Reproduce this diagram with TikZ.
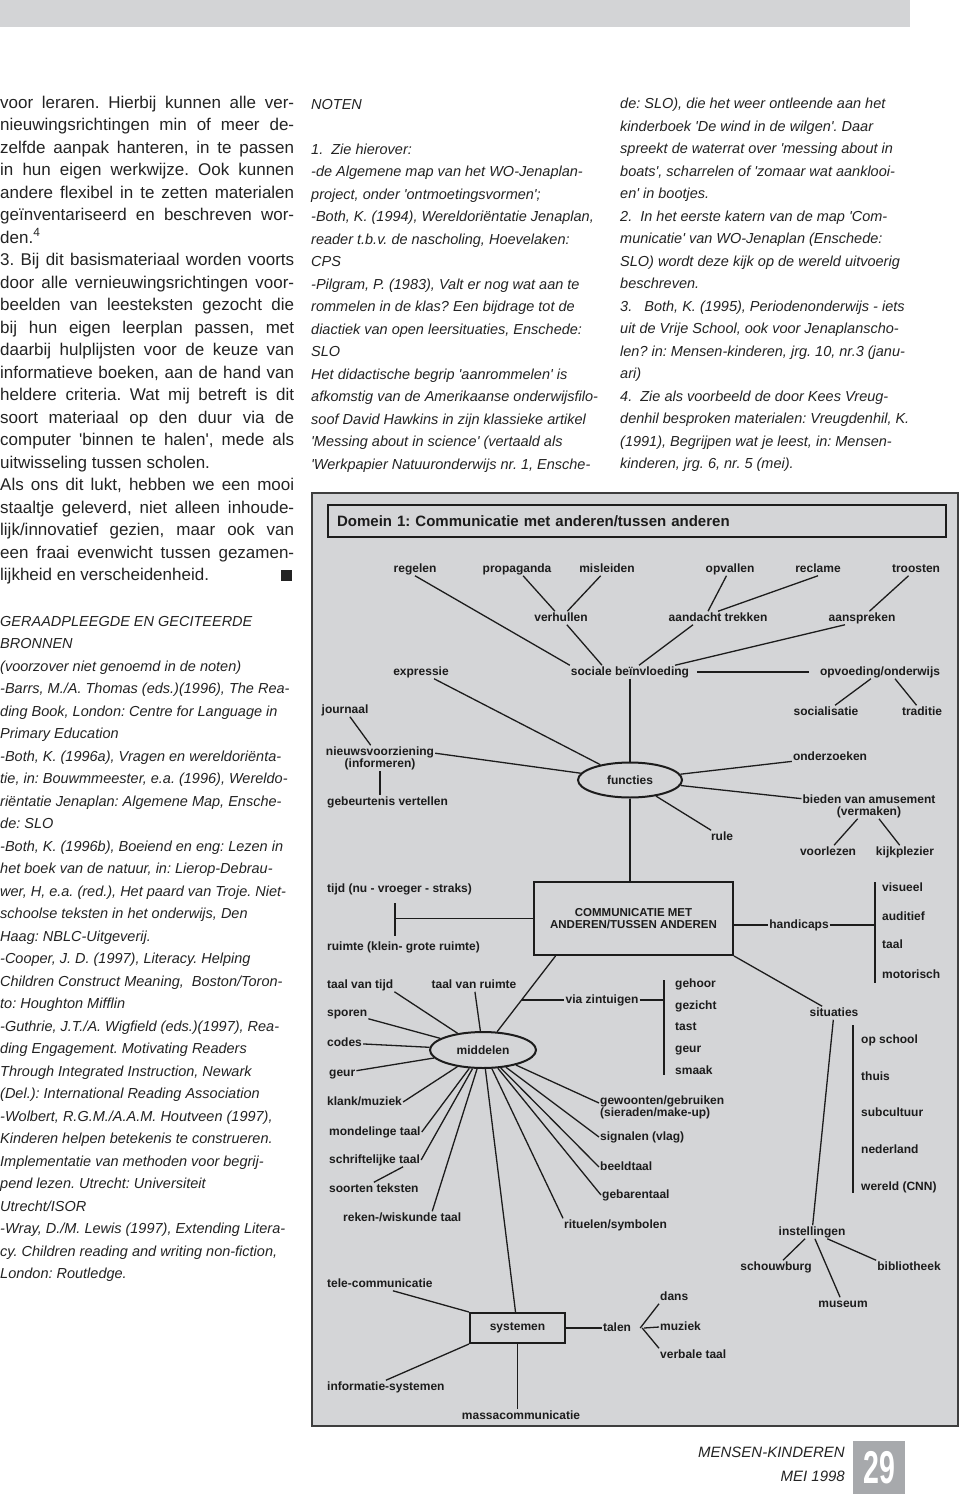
\documentclass[tikz,border=0pt]{standalone}
\usepackage{fontspec}
\setmainfont{Liberation Sans}[Ligatures=TeXOff]
\usetikzlibrary{shapes.geometric}
\setlength\parindent{0pt}
\frenchspacing
\definecolor{pagegray}{HTML}{D3D4D6}
\definecolor{diagbg}{HTML}{D4D5D7}
\definecolor{ink}{HTML}{1C1C1C}
\definecolor{txt}{HTML}{232323}
\definecolor{pagenum}{HTML}{A7A9AC}
\newcommand\jl[1]{\hbox to 294pt{#1}}
\newcommand\lft[1]{\hbox{#1}}
\newcommand\colbox[1]{\vbox{\baselineskip=22.5pt\lineskiplimit=-20pt #1}}
\begin{document}
\begin{tikzpicture}[x=1pt,y=-1pt,
  lbl/.style={font=\bfseries\fontsize{12}{12}\selectfont, text=ink, inner sep=1pt, text height=8.6pt, text depth=2.5pt},
  lblL/.style={lbl, anchor=west},
  lbltwo/.style={font=\bfseries\fontsize{12}{12}\selectfont, text=ink, inner sep=1pt},
  conn/.style={draw=ink, line width=1.3pt},
  ell/.style={ellipse, draw=ink, line width=2pt, inner sep=0pt, font=\bfseries\fontsize{12}{12}\selectfont, text=ink},
  boxn/.style={rectangle, draw=ink, line width=2pt, inner sep=0pt, text=ink},
  bodytext/.style={anchor=north west, inner sep=0pt, text=txt, font=\fontsize{17}{22.5}\selectfont},
  notetext/.style={anchor=north west, inner sep=0pt, text=txt, font=\itshape\fontsize{14.5}{22.5}\selectfont}
]
\useasboundingbox (0,0) rectangle (960,1506);
\fill[white] (0,0) rectangle (960,1506);
% top bar
\fill[pagegray] (0,0) rectangle (910,27);

% ---------- body column ----------
\node[bodytext] (body) at (0,92.2) {\colbox{%
\jl{\strut voor leraren. Hierbij kunnen alle ver-}
\jl{nieuwingsrichtingen min of meer de-}
\jl{zelfde aanpak hanteren, in te passen}
\jl{in hun eigen werkwijze. Ook kunnen}
\jl{andere flexibel in te zetten materialen}
\jl{geïnventariseerd en beschreven wor-}
\lft{den.\textsuperscript{4}}
\jl{3. Bij dit basismateriaal worden voorts}
\jl{door alle vernieuwingsrichtingen voor-}
\jl{beelden van leesteksten gezocht die}
\jl{bij hun eigen leerplan passen, met}
\jl{daarbij hulplijsten voor de keuze van}
\jl{informatieve boeken, aan de hand van}
\jl{heldere criteria. Wat mij betreft is dit}
\jl{soort materiaal op den duur via de}
\jl{computer 'binnen te halen', mede als}
\lft{uitwisseling tussen scholen.}
\jl{Als ons dit lukt, hebben we een mooi}
\jl{staaltje geleverd, niet alleen inhoude-}
\jl{lijk/innovatief gezien, maar ook van}
\jl{een fraai evenwicht tussen gezamen-}
\jl{lijkheid en verscheidenheid.\hfill\rule{11pt}{11pt}\hspace*{2pt}}}};

% ---------- notes column 1 ----------
\node[notetext] (noten) at (311,93.2) {\colbox{%
\lft{\strut NOTEN}
\lft{\strut}
\lft{1.\ \ Zie hierover:}
\lft{-de Algemene map van het WO-Jenaplan-}
\lft{project, onder 'ontmoetingsvormen';}
\lft{-Both, K. (1994), Wereldoriëntatie Jenaplan,}
\lft{reader t.b.v. de nascholing, Hoevelaken:}
\lft{CPS}
\lft{-Pilgram, P. (1983), Valt er nog wat aan te}
\lft{rommelen in de klas? Een bijdrage tot de}
\lft{diactiek van open leersituaties, Enschede:}
\lft{SLO}
\lft{Het didactische begrip 'aanrommelen' is}
\lft{afkomstig van de Amerikaanse onderwijsfilo-}
\lft{soof David Hawkins in zijn klassieke artikel}
\lft{'Messing about in science' (vertaald als}
\lft{'Werkpapier Natuuronderwijs nr. 1, Ensche-}}};

% ---------- notes column 2 ----------
\node[notetext] (noten2) at (620,92.8) {\colbox{%
\lft{\strut de: SLO), die het weer ontleende aan het}
\lft{kinderboek 'De wind in de wilgen'. Daar}
\lft{spreekt de waterrat over 'messing about in}
\lft{boats', scharrelen of 'zomaar wat aanklooi-}
\lft{en' in bootjes.}
\lft{2.\ \ In het eerste katern van de map 'Com-}
\lft{municatie' van WO-Jenaplan (Enschede:}
\lft{SLO) wordt deze kijk op de wereld uitvoerig}
\lft{beschreven.}
\lft{3.\ \ \ Both, K. (1995), Periodenonderwijs - iets}
\lft{uit de Vrije School, ook voor Jenaplanscho-}
\lft{len? in: Mensen-kinderen, jrg. 10, nr.3 (janu-}
\lft{ari)}
\lft{4.\ \ Zie als voorbeeld de door Kees Vreug-}
\lft{denhil besproken materialen: Vreugdenhil, K.}
\lft{(1991), Begrijpen wat je leest, in: Mensen-}
\lft{kinderen, jrg. 6, nr. 5 (mei).}}};

% ---------- bronnen ----------
\node[notetext] (bronnen) at (0,610.4) {\colbox{%
\lft{\strut GERAADPLEEGDE EN GECITEERDE}
\lft{BRONNEN}
\lft{(voorzover niet genoemd in de noten)}
\lft{-Barrs, M./A. Thomas (eds.)(1996), The Rea-}
\lft{ding Book, London: Centre for Language in}
\lft{Primary Education}
\lft{-Both, K. (1996a), Vragen en wereldoriënta-}
\lft{tie, in: Bouwmmeester, e.a. (1996), Wereldo-}
\lft{riëntatie Jenaplan: Algemene Map, Ensche-}
\lft{de: SLO}
\lft{-Both, K. (1996b), Boeiend en eng: Lezen in}
\lft{het boek van de natuur, in: Lierop-Debrau-}
\lft{wer, H, e.a. (red.), Het paard van Troje. Niet-}
\lft{schoolse teksten in het onderwijs, Den}
\lft{Haag: NBLC-Uitgeverij.}
\lft{-Cooper, J. D. (1997), Literacy. Helping}
\lft{Children Construct Meaning,\ \ Boston/Toron-}
\lft{to: Houghton Mifflin}
\lft{-Guthrie, J.T./A. Wigfield (eds.)(1997), Rea-}
\lft{ding Engagement. Motivating Readers}
\lft{Through Integrated Instruction, Newark}
\lft{(Del.): International Reading Association}
\lft{-Wolbert, R.G.M./A.A.M. Houtveen (1997),}
\lft{Kinderen helpen betekenis te construeren.}
\lft{Implementatie van methoden voor begrij-}
\lft{pend lezen. Utrecht: Universiteit}
\lft{Utrecht/ISOR}
\lft{-Wray, D./M. Lewis (1997), Extending Litera-}
\lft{cy. Children reading and writing non-fiction,}
\lft{London: Routledge.}}};

% ---------- footer ----------
\node[anchor=base east, inner sep=0pt, text=txt, font=\itshape\fontsize{15}{15}\selectfont] (mag) at (845,1457.5) {MENSEN-KINDEREN};
\node[anchor=base east, inner sep=0pt, text=txt, font=\itshape\fontsize{15}{15}\selectfont] (date) at (845,1481.5) {MEI 1998};
\node[fill=pagenum, minimum width=52pt, minimum height=53pt, inner sep=0pt] (pagebox) at (879,1467.5) {};
\node[text=white, inner sep=0pt, xscale=0.62, font=\bfseries\fontsize{46}{46}\selectfont] (pagenr) at (879,1468) {29};

% ---------- diagram frame ----------
\fill[diagbg] (312,493) rectangle (958,1426);
\draw[draw=ink!85, line width=1.2pt] (312,493) rectangle (958,1426);
\node[draw=ink, line width=2.2pt, anchor=north west, minimum height=32pt, text width=600pt, align=left, inner xsep=9pt, inner ysep=0pt, text=ink, font=\bfseries\fontsize{15}{15}\selectfont] (title) at (327,504) {Domein 1: Communicatie met anderen/tussen anderen};

% ---------- labels ----------
\node[lbl] (regelen) at (415,569) {regelen};
\node[lbl] (propaganda) at (517,569) {propaganda};
\node[lbl] (misleiden) at (607,569) {misleiden};
\node[lbl] (opvallen) at (730,569) {opvallen};
\node[lbl] (reclame) at (818,569) {reclame};
\node[lbl] (troosten) at (916,569) {troosten};
\node[lbl] (verhullen) at (561,618) {verhullen};
\node[lbl] (aandacht) at (718,618) {aandacht trekken};
\node[lbl] (aanspreken) at (862,618) {aanspreken};
\node[lbl] (expressie) at (421,672) {expressie};
\node[lbl] (sociale) at (630,672) {sociale beïnvloeding};
\node[lbl] (opvoeding) at (880,672) {opvoeding/onderwijs};
\node[lbl] (journaal) at (345,710) {journaal};
\node[lbl] (socialisatie) at (826,712) {socialisatie};
\node[lbl] (traditie) at (922,712) {traditie};
\node[lbltwo, align=center] (nieuws) at (380,758) {nieuwsvoorziening\\(informeren)};
\node[ell, minimum width=104pt, minimum height=35pt] (functies) at (630,780) {functies};
\node[lbl] (onderzoeken) at (830,757) {onderzoeken};
\node[lblL] (gebeurtenis) at (326,802) {gebeurtenis vertellen};
\node[lbltwo, align=center] (bieden) at (869,806) {bieden van amusement\\(vermaken)};
\node[lbl] (rule) at (722,837) {rule};
\node[lbl] (voorlezen) at (828,852) {voorlezen};
\node[lbl] (kijkplezier) at (905,852) {kijkplezier};

\node[lblL] (tijd) at (326,889) {tijd (nu - vroeger - straks)};
\node[lblL] (ruimte) at (326,947) {ruimte (klein- grote ruimte)};
\node[boxn, minimum width=199pt, minimum height=73pt, align=center, font=\bfseries\fontsize{11.5}{12.5}\selectfont] (comm) at (633.5,918.5) {COMMUNICATIE MET\\ANDEREN/TUSSEN ANDEREN};
\node[lbl] (handicaps) at (799,925) {handicaps};
\node[lblL] (visueel) at (881,888) {visueel};
\node[lblL] (auditief) at (881,917) {auditief};
\node[lblL] (taalh) at (881,945) {taal};
\node[lblL] (motorisch) at (881,975) {motorisch};

\node[lblL] (taaltijd) at (326,985) {taal van tijd};
\node[lbl] (taalruimte) at (474,985) {taal van ruimte};
\node[lbl] (via) at (602,1000) {via zintuigen};
\node[lblL] (gehoor) at (674,984) {gehoor};
\node[lblL] (gezicht) at (674,1006) {gezicht};
\node[lblL] (tast) at (674,1027) {tast};
\node[lblL] (geurz) at (674,1049) {geur};
\node[lblL] (smaak) at (674,1071) {smaak};
\node[lbl] (situaties) at (834,1013) {situaties};

\node[ell, minimum width=106pt, minimum height=36pt] (middelen) at (483,1050) {middelen};
\node[lblL] (sporen) at (326,1013) {sporen};
\node[lblL] (codes) at (326,1043) {codes};
\node[lblL] (geur) at (328,1073) {geur};
\node[lblL] (klank) at (326,1102) {klank/muziek};
\node[lblL] (mondeling) at (328,1132) {mondelinge taal};
\node[lblL] (schrift) at (328,1160) {schriftelijke taal};
\node[lblL] (soorten) at (328,1189) {soorten teksten};
\node[lblL] (reken) at (342,1218) {reken-/wiskunde taal};
\node[lbltwo, align=left, anchor=west] (gewoonten) at (599,1107) {gewoonten/gebruiken\\(sieraden/make-up)};
\node[lblL] (signalen) at (599,1137) {signalen (vlag)};
\node[lblL] (beeldtaal) at (599,1167) {beeldtaal};
\node[lblL] (gebaren) at (601,1195) {gebarentaal};
\node[lblL] (rituelen) at (563,1225) {rituelen/symbolen};

\node[lblL] (opschool) at (860,1040) {op school};
\node[lblL] (thuis) at (860,1077) {thuis};
\node[lblL] (subcultuur) at (860,1113) {subcultuur};
\node[lblL] (nederland) at (860,1150) {nederland};
\node[lblL] (wereld) at (860,1187) {wereld (CNN)};
\node[lbl] (instellingen) at (812,1232) {instellingen};
\node[lbl] (schouwburg) at (776,1267) {schouwburg};
\node[lbl] (museum) at (843,1304) {museum};
\node[lbl] (bibliotheek) at (909,1267) {bibliotheek};

\node[lblL] (tele) at (326,1284) {tele-communicatie};
\node[lblL] (informatie) at (326,1387) {informatie-systemen};
\node[boxn, minimum width=95pt, minimum height=30pt, font=\bfseries\fontsize{12}{12}\selectfont] (systemen) at (517.5,1328) {systemen};
\node[lbl] (massa) at (521,1416) {massacommunicatie};
\node[lbl] (talen) at (617,1328) {talen};
\node[lblL] (dans) at (659,1297) {dans};
\node[lblL] (muziek) at (659,1327) {muziek};
\node[lblL] (verbale) at (659,1355) {verbale taal};

% ---------- free ends ----------
\coordinate (tbt) at (395,903);
\coordinate (tbb) at (395,936);
\coordinate (hbt) at (875,882);
\coordinate (hbb) at (875,983);
\coordinate (vzl) at (522,1000);
\coordinate (vzt) at (664,980);
\coordinate (vzb) at (664,1075);
\coordinate (sbt) at (853,1025);
\coordinate (sbb) at (853,1193);

% ---------- connectors ----------
\draw[conn] (regelen.south) -- (sociale.north west);
\draw[conn] (propaganda) -- (verhullen);
\draw[conn] (misleiden) -- (verhullen);
\draw[conn] (verhullen) -- ([xshift=-28pt]sociale.north);
\draw[conn] (opvallen) -- ([xshift=-10pt]aandacht.north);
\draw[conn] (reclame.south) -- (aandacht.north);
\draw[conn] ([xshift=-25pt]aandacht.south) -- (sociale);
\draw[conn] (troosten) -- (aanspreken);
\draw[conn] ([xshift=-17pt]aanspreken.south) -- ([xshift=45pt]sociale.north);
\draw[conn, shorten <=7pt, shorten >=10pt] (sociale) -- (opvoeding);
\draw[conn] (opvoeding) -- (socialisatie);
\draw[conn] ([xshift=15pt]opvoeding.south) -- (traditie);
\draw[conn] (sociale) -- (functies);
\draw[conn] (expressie) -- (functies);
\draw[conn] (journaal) -- (nieuws);
\draw[conn] ([yshift=-8pt]nieuws.north east) -- (functies);
\draw[conn] (nieuws.south) -- (nieuws.south |- gebeurtenis.north);
\draw[conn] (functies) -- (onderzoeken);
\draw[conn] (functies) -- (bieden);
\draw[conn] (bieden) -- (voorlezen);
\draw[conn] (bieden) -- (kijkplezier);
\draw[conn] (functies) -- (rule);
\draw[conn] (functies.south) -- (functies.south |- comm.north);

\draw[conn] (comm.west) -- (comm.west -| tbt);
\draw[conn] (tbt) -- (tbb);
\draw[conn] ([yshift=-6.5pt]comm.east) -- (handicaps);
\draw[conn] (handicaps) -- (handicaps -| hbt);
\draw[conn] (hbt) -- (hbb);
\draw[conn] ([xshift=-78pt]comm.south) -- (middelen);
\draw[conn] (comm.south east) -- (situaties);

\draw[conn] (vzl) -- (via);
\draw[conn] (via) -- (via -| vzt);
\draw[conn] (vzt) -- (vzb);

\draw[conn] (situaties) -- (instellingen);
\draw[conn] (sbt) -- (sbb);
\draw[conn] (instellingen) -- (schouwburg);
\draw[conn] (instellingen) -- (museum);
\draw[conn] (instellingen) -- (bibliotheek.north west);

\draw[conn] (taaltijd.south east) -- (middelen);
\draw[conn] (taalruimte) -- (middelen);
\draw[conn] (sporen) -- (middelen);
\draw[conn] (codes) -- (middelen);
\draw[conn] (geur) -- (middelen);
\draw[conn] (klank.east) -- (middelen);
\draw[conn] (mondeling.east) -- (middelen);
\draw[conn] (schrift.east) -- (middelen);
\draw[conn] (soorten.north) -- ([xshift=-18pt]schrift.south east);
\draw[conn] ([xshift=30pt]reken.north) -- (middelen);
\draw[conn] ([yshift=4pt]gewoonten.west) -- (middelen);
\draw[conn] (signalen.west) -- (middelen);
\draw[conn] (beeldtaal.west) -- (middelen);
\draw[conn] (gebaren.west) -- (middelen);
\draw[conn] (rituelen.north west) -- (middelen);
\draw[conn] (middelen) -- (systemen);

\draw[conn] ([xshift=13pt]tele.south) -- (systemen.north west);
\draw[conn] (informatie.north) -- (systemen.south west);
\draw[conn] (systemen.south) -- (systemen.south |- massa.north);
\draw[conn] (systemen) -- (talen);
\draw[conn] ([xshift=8pt]talen.east) -- (dans.south west);
\draw[conn] ([xshift=12pt]talen.east) -- (muziek.west);
\draw[conn] ([xshift=10pt]talen.east) -- (verbale.north west);
\end{tikzpicture}
\end{document}
